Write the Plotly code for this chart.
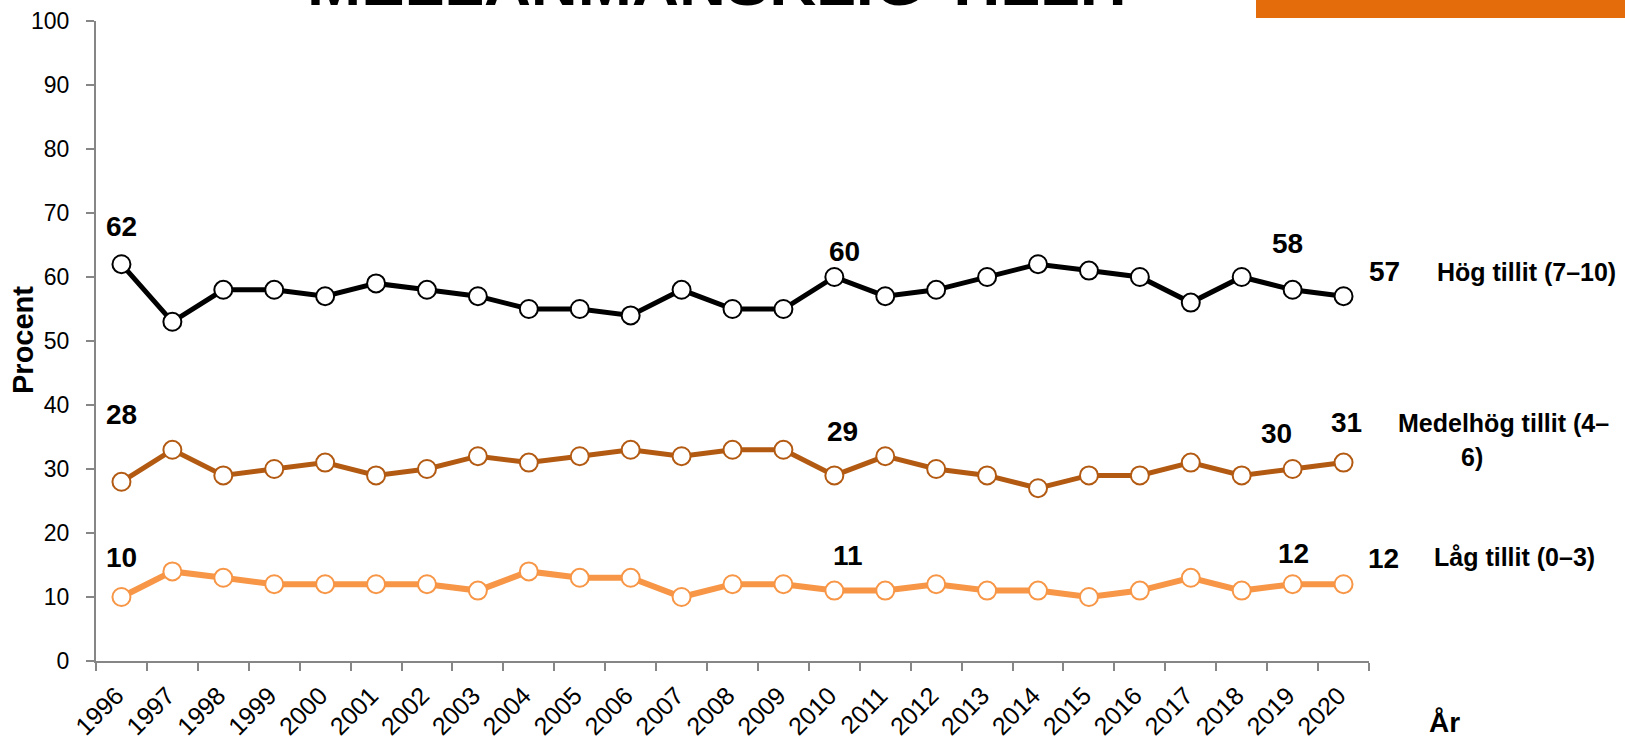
import plotly.graph_objects as go

years = [str(y) for y in range(1996, 2021)]
hog = [62, 53, 58, 58, 57, 59, 58, 57, 55, 55, 54, 58, 55, 55, 60, 57, 58, 60, 62, 61, 60, 56, 60, 58, 57]
medel = [28, 33, 29, 30, 31, 29, 30, 32, 31, 32, 33, 32, 33, 33, 29, 32, 30, 29, 27, 29, 29, 31, 29, 30, 31]
lag = [10, 14, 13, 12, 12, 12, 12, 11, 14, 13, 13, 10, 12, 12, 11, 11, 12, 11, 11, 10, 11, 13, 11, 12, 12]

names = ["Hög tillit (7–10)", "Medelhög tillit (4–6)", "Låg tillit (0–3)"]
colors = ["#000000", "#B35A12", "#F79646"]
title_text = "MELLANMÄNSKLIG TILLIT"

# indices of labelled points and their pixel offsets (xshift, yshift)
label_idx = [0, 14, 23, 24]
label_offsets = [
    [(0, 38), (10, 26), (-5, 46), (41, 25)],
    [(0, 67), (8, 44), (-16, 36), (3, 40)],
    [(0, 40), (14, 35), (1, 31), (40, 26)],
]

FONT = "Liberation Sans, Arial, sans-serif"
L, T, W, H = 96, 21, 1273, 640


def px(x):
    return (x - L) / W


def py(y):
    return (T + H - y) / H


fig = go.Figure()
series = [hog, medel, lag]
for s, name, col, lw in zip(series, names, colors, [5, 5, 6]):
    fig.add_trace(go.Scatter(
        x=years, y=s, mode="lines+markers", name=name,
        line=dict(color=col, width=lw),
        marker=dict(symbol="circle", size=18, color="white", line=dict(color=col, width=2)),
        showlegend=False,
    ))

annotations = []
for s, offs in zip(series, label_offsets):
    for i, (dx, dy) in zip(label_idx, offs):
        annotations.append(dict(
            x=i, y=s[i], xref="x", yref="y", text=f"<b>{s[i]}</b>",
            xanchor="center", yanchor="middle",
            showarrow=False, xshift=dx, yshift=dy,
            font=dict(family=FONT, size=28, color="black"),
        ))

# series names at the right
for xc, yc, txt in [(1526, 272, "Hög tillit (7–10)"),
                    (1504, 423, "Medelhög tillit (4–"),
                    (1472, 457, "6)"),
                    (1514, 557, "Låg tillit (0–3)")]:
    annotations.append(dict(
        x=px(xc), y=py(yc), xref="paper", yref="paper", text=f"<b>{txt}</b>",
        xanchor="center", yanchor="middle", showarrow=False,
        font=dict(family=FONT, size=25, color="black")))

annotations += [
    dict(x=px(23), y=py(340), xref="paper", yref="paper",
         xanchor="center", yanchor="middle",
         text="<b>Procent</b>", textangle=-90, showarrow=False,
         font=dict(family=FONT, size=29, color="black")),
    dict(x=px(1444), y=py(722), xref="paper", yref="paper",
         xanchor="center", yanchor="middle",
         text="<b>År</b>", showarrow=False,
         font=dict(family=FONT, size=28, color="black")),
    dict(x=px(722), y=1.0, xref="paper", yref="paper",
         xanchor="center", yanchor="bottom",
         text=f"<b>{title_text}</b>", showarrow=False,
         font=dict(family=FONT, size=65, color="black")),
]

fig.update_layout(
    width=1625, height=737,
    margin=dict(l=L, r=1625 - L - W, t=T, b=737 - T - H, autoexpand=False),
    paper_bgcolor="white", plot_bgcolor="white",
    annotations=annotations,
    shapes=[dict(type="rect", xref="paper", yref="paper",
                 x0=px(1256), x1=px(1630),
                 y0=py(18), y1=py(-5),
                 fillcolor="#E46C0A", line=dict(width=0), layer="above")],
)
fig.update_xaxes(
    type="category", range=[-0.5, 24.5], automargin=False,
    showline=True, linecolor="#868686", linewidth=2,
    ticks="outside", ticklen=8, tickcolor="#868686", tickwidth=2,
    tickson="boundaries", tickangle=-45,
    ticklabelstandoff=8, ticklabelshift=-5,
    tickfont=dict(family=FONT, size=25, color="black"),
    showgrid=False, zeroline=False,
)
fig.update_yaxes(
    range=[0, 100], dtick=10, automargin=False,
    showline=True, linecolor="#868686", linewidth=2,
    ticks="outside", ticklen=8, tickcolor="#868686", tickwidth=2,
    ticklabelstandoff=12,
    tickfont=dict(family=FONT, size=23, color="black"),
    showgrid=False, zeroline=False,
)

fig.write_html("out.html", config={"displayModeBar": False},
               post_script="document.body.style.margin='0';")
